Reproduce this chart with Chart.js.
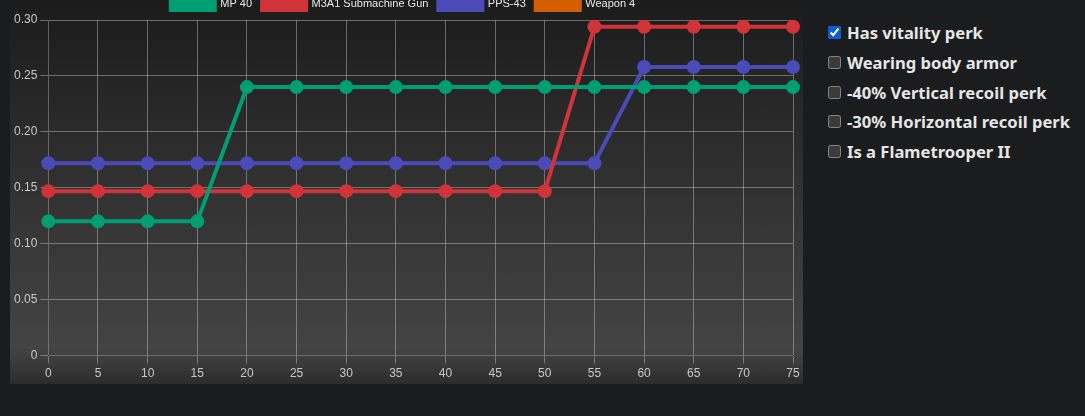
<!DOCTYPE html>
<html>
<head>
<meta charset="utf-8">
<script src="https://cdn.jsdelivr.net/npm/chart.js@4"></script>
<style>
  html, body { margin: 0; padding: 0; background: #1b1c1e; color-scheme: dark; overflow: hidden; }
  #chart-box {
    position: absolute; left: 10px; top: -12px; width: 793px; height: 396px;
    background: linear-gradient(#1a1a1a 0%, #444444 91%, #2c2c2c 100%);
  }
  #perks {
    position: absolute; left: 826px; top: 18px;
    font-family: "Noto Sans", sans-serif; font-weight: bold; font-size: 16.6px; color: #e6e6e6;
  }
  #perks label { display: flex; align-items: center; height: 29.7px; }
  #perks input { margin: 0 6px 0 2px; width: 13px; height: 13px; accent-color: #0b5cd6; }
</style>
</head>
<body>
<div id="chart-box"><canvas id="myChart"></canvas></div>
<div id="perks"></div>
<script>
const distances = [0, 5, 10, 15, 20, 25, 30, 35, 40, 45, 50, 55, 60, 65, 70, 75];
const mp40 = [0.12, 0.12, 0.12, 0.12, 0.24, 0.24, 0.24, 0.24, 0.24, 0.24, 0.24, 0.24, 0.24, 0.24, 0.24, 0.24];
const m3a1 = [0.147, 0.147, 0.147, 0.147, 0.147, 0.147, 0.147, 0.147, 0.147, 0.147, 0.147, 0.294, 0.294, 0.294, 0.294, 0.294];
const pps43 = [0.172, 0.172, 0.172, 0.172, 0.172, 0.172, 0.172, 0.172, 0.172, 0.172, 0.172, 0.172, 0.258, 0.258, 0.258, 0.258];
const weapon4 = [];
const weaponNames = ["MP 40", "M3A1 Submachine Gun", "PPS-43", "Weapon 4"];
const weaponColors = ["#009e73", "#d13438", "#4a4ab9", "#d55e00"];
const perkNames = ["Has vitality perk", "Wearing body armor", "-40% Vertical recoil perk", "-30% Horizontal recoil perk", "Is a Flametrooper II"];
const perkChecked = [true, false, false, false, false];

let perks = document.getElementById('perks');
perkNames.forEach((p, i) => {
    let label = document.createElement('label');
    let box = document.createElement('input');
    box.type = 'checkbox';
    box.checked = perkChecked[i];
    label.appendChild(box);
    label.appendChild(document.createTextNode(p));
    perks.appendChild(label);
});

const series = [mp40, m3a1, pps43, weapon4];
const graph = document.getElementById('myChart').getContext("2d");

let myChart = new Chart(graph, {
    type: 'line',
    data: {
        labels: distances,
        datasets: series.map((s, i) => ({
            label: weaponNames[i],
            data: s,
            backgroundColor: weaponColors[i],
            borderColor: weaponColors[i],
            borderWidth: 4,
            pointRadius: 5,
            pointHoverRadius: 6,
            tension: 0
        }))
    },
    options: {
        responsive: true,
        maintainAspectRatio: false,
        animation: false,
        layout: { padding: { left: 1, right: 8, bottom: 0 } },
        plugins: {
            legend: {
                labels: {
                    color: '#e8e8e8',
                    boxWidth: 44,
                    boxHeight: 12,
                    font: { family: 'Liberation Sans, Arial', size: 11 }
                }
            },
            tooltip: { enabled: false }
        },
        scales: {
            x: {
                grid: { color: 'rgba(200,200,200,0.45)' },
                ticks: { color: '#c8c8c8', font: { family: 'Liberation Sans, Arial', size: 12 }, maxRotation: 0 }
            },
            y: {
                min: 0,
                max: 0.3,
                grid: { color: 'rgba(200,200,200,0.45)' },
                ticks: { stepSize: 0.05, color: '#c8c8c8', font: { family: 'Liberation Sans, Arial', size: 12 } }
            }
        }
    }
});
</script>
</body>
</html>
